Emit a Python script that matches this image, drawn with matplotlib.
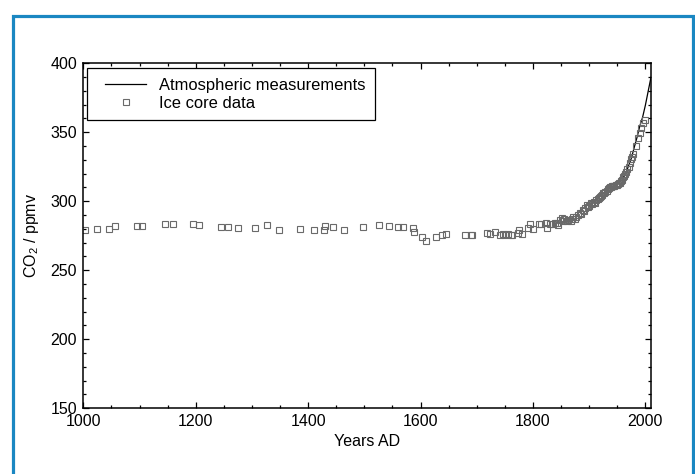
import matplotlib
matplotlib.use("Agg")
import matplotlib.pyplot as plt
from matplotlib.patches import Rectangle
from matplotlib.ticker import MultipleLocator
from matplotlib.legend_handler import HandlerLine2D

plt.rcParams['font.family'] = ['Liberation Sans', 'DejaVu Sans']
plt.rcParams['mathtext.fontset'] = 'custom'
plt.rcParams['mathtext.rm'] = 'Liberation Sans'
plt.rcParams['mathtext.it'] = 'Liberation Sans'

# ice core data
ice_years = [1003, 1024, 1045, 1057, 1095, 1104, 1145, 1159, 1196, 1206,
             1245, 1257, 1276, 1305, 1326, 1349, 1386, 1410, 1429, 1430,
             1445, 1464, 1498, 1526, 1544, 1559, 1569, 1587, 1589, 1603,
             1609, 1628, 1639, 1646, 1679, 1689, 1691, 1719, 1723, 1733,
             1742, 1746, 1750, 1755, 1761, 1763, 1773, 1776, 1781, 1792,
             1795, 1800, 1811, 1814, 1824, 1825, 1831, 1836, 1840, 1842,
             1845, 1848, 1851, 1853, 1856, 1860, 1863, 1867, 1869, 1871,
             1874, 1877, 1880, 1883, 1886, 1889, 1891, 1893, 1896, 1898,
             1900, 1903, 1905, 1908, 1910, 1913, 1915, 1917, 1919, 1921,
             1923, 1925, 1927, 1929, 1931, 1933, 1935, 1937, 1939, 1940,
             1942, 1943, 1945, 1947, 1949, 1951, 1953, 1954, 1956, 1958,
             1960, 1962, 1964, 1966, 1968, 1970, 1972, 1974, 1976, 1978,
             1983, 1987, 1990, 1992, 1996, 1999]
ice_co2 = [279.2, 280.1, 279.7, 282.1, 281.9, 282.1, 283.3, 283.3, 283.3, 283.0,
           281.1, 281.3, 280.4, 280.9, 282.8, 279.4, 279.7, 279.0, 279.0, 281.9,
           281.1, 279.0, 281.6, 282.6, 282.1, 281.1, 281.1, 280.6, 277.9, 273.9,
           271.0, 273.9, 275.8, 276.5, 275.3, 275.3, 275.5, 277.0, 276.0, 277.7,
           275.8, 276.3, 275.5, 276.0, 275.8, 275.5, 277.2, 279.2, 276.0, 280.6,
           283.3, 280.1, 283.5, 283.5, 284.5, 280.9, 283.5, 283.3, 284.2, 284.0,
           283.1, 286.4, 287.6, 285.4, 286.9, 285.7, 286.5, 285.5, 287.3, 288.8,
           287.2, 288.8, 289.8, 291.7, 290.8, 293.7, 292.6, 294.8, 297.3, 295.6,
           296.5, 298.5, 297.9, 299.5, 298.5, 300.9, 301.3, 302.4, 303.3, 303.8,
           304.6, 305.8, 306.2, 306.9, 307.7, 308.5, 309.4, 310.2, 310.5, 310.9,
           311.0, 311.1, 310.8, 311.5, 311.8, 312.3, 313.0, 313.5, 314.8, 315.6,
           317.4, 318.6, 320.0, 321.5, 323.2, 325.1, 327.5, 330.5, 332.2, 334.3,
           340.1, 345.6, 349.8, 353.0, 356.6, 359.0]

# atmospheric measurements
atm_years = [1959, 1965, 1970, 1975, 1980, 1985, 1990, 1995, 2000, 2005, 2010]
atm_co2 = [316.0, 320.0, 325.7, 331.1, 338.8, 346.1, 354.4, 360.8, 369.6, 379.8, 389.9]

fig = plt.figure(figsize=(6.95, 4.74), dpi=100)
ax = fig.add_axes([0.1199, 0.139, 0.8168, 0.7275])

ax.plot(atm_years, atm_co2, color='black', lw=0.9, label='Atmospheric measurements')
ax.plot(ice_years, ice_co2, ls='none', marker='s', ms=3.8, mfc='none',
        mec='#6a6a6a', mew=0.8, label='Ice core data')

ax.set_xlim(1000, 2010)
ax.set_ylim(150, 400)
ax.xaxis.set_major_locator(MultipleLocator(200))
ax.xaxis.set_minor_locator(MultipleLocator(50))
ax.yaxis.set_major_locator(MultipleLocator(50))
ax.yaxis.set_minor_locator(MultipleLocator(10))
ax.tick_params(which='both', direction='in', top=True, right=True,
               labelsize=11.5, width=0.9)
ax.tick_params(which='major', length=4.5)
ax.tick_params(axis='x', which='major', pad=4.5)
ax.tick_params(axis='y', which='major', pad=4.5)
ax.tick_params(which='minor', length=2.5)
for s in ax.spines.values():
    s.set_linewidth(1.1)

ax.set_xlabel('Years AD', fontsize=11.5, labelpad=3)
ax.set_ylabel(r'CO$_2$ / ppmv', fontsize=11.5, labelpad=7)

hm = HandlerLine2D(xpad=0.5)
leg = ax.legend(loc='upper left', bbox_to_anchor=(0.0065, 0.986), borderaxespad=0,
                fontsize=11.9, fancybox=False, edgecolor='black', framealpha=1,
                handlelength=3.0, handletextpad=0.8, labelspacing=0.18,
                borderpad=0.58,
                handler_map={l: hm for l in ax.get_lines()})
leg.get_frame().set_linewidth(0.9)

# blue frame around the panel
fig.patches.append(Rectangle((0.0187, -0.05), 0.9785, 1.017, transform=fig.transFigure,
                             fill=False, edgecolor='#1a87c2', lw=2.3))

fig.savefig('out.png', dpi=100)
